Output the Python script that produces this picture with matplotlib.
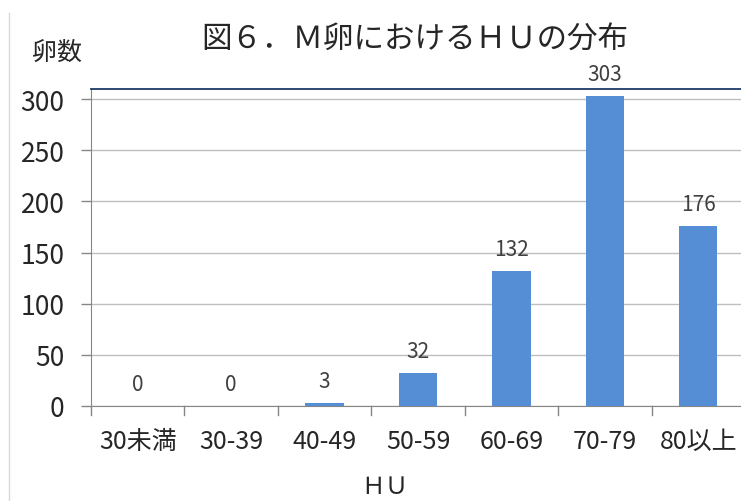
import matplotlib
matplotlib.use("Agg")
import matplotlib.pyplot as plt
from matplotlib.lines import Line2D

plt.rcParams['font.family'] = ['Noto Sans CJK JP', 'DejaVu Sans']

# data
categories = ["30未満", "30-39", "40-49", "50-59", "60-69", "70-79", "80以上"]
counts = [0, 0, 3, 32, 132, 303, 176]
yticks = [0, 50, 100, 150, 200, 250, 300]

fig = plt.figure(figsize=(7.41, 5.02), dpi=100)
ax = fig.add_axes([91/741, 1 - 407/502, 654/741, 317/502])

x = list(range(len(categories)))
bars = ax.bar(x, counts, width=0.41, color="#558ED5", zorder=3)

ax.set_xlim(-0.5, len(categories) - 0.5)
ax.set_ylim(0, 310)
ax.set_yticks(yticks)
ax.set_yticklabels([str(v) for v in yticks], fontsize=19, color="#262626")
ax.yaxis.grid(True, color="#BFBFBF", linewidth=1, zorder=0)

# category labels centred, ticks at boundaries
ax.set_xticks(x)
ax.set_xticklabels(categories, fontsize=18, color="#262626")
ax.tick_params(axis="x", length=0, pad=16)
for b in [i - 0.5 for i in range(len(categories) + 1)]:
    ax.plot([b, b], [0, -0.028], transform=ax.get_xaxis_transform(),
            color="#868686", linewidth=1, clip_on=False)
ax.tick_params(axis="y", length=7, width=1, color="#868686", pad=12)

ax.spines["right"].set_visible(False)
ax.spines["left"].set_color("#868686")
ax.spines["bottom"].set_color("#868686")
ax.spines["top"].set_color("#1F3864")
ax.spines["top"].set_linewidth(1.3)

for xi, v in zip(x, counts):
    ax.annotate(str(v), (xi, v), xytext=(0, 8), textcoords="offset points",
                ha="center", va="bottom", fontsize=15, color="#404040")

fig.text(415/741, 1 - 40/502, "図６．Ｍ卵におけるＨＵの分布", ha="center", va="center",
         fontsize=22, color="#262626")
fig.text(57/741, 1 - 53/502, "卵数", ha="center", va="center", fontsize=18, color="#262626")
fig.text(385/741, 1 - 488/502, "ＨＵ", ha="center", va="center", fontsize=17, color="#262626")

# chart area left border
fig.add_artist(Line2D([9/741, 9/741], [0, 1 - 14/502], color="#D9D9D9", linewidth=1))

fig.savefig("out.png", dpi=100)
